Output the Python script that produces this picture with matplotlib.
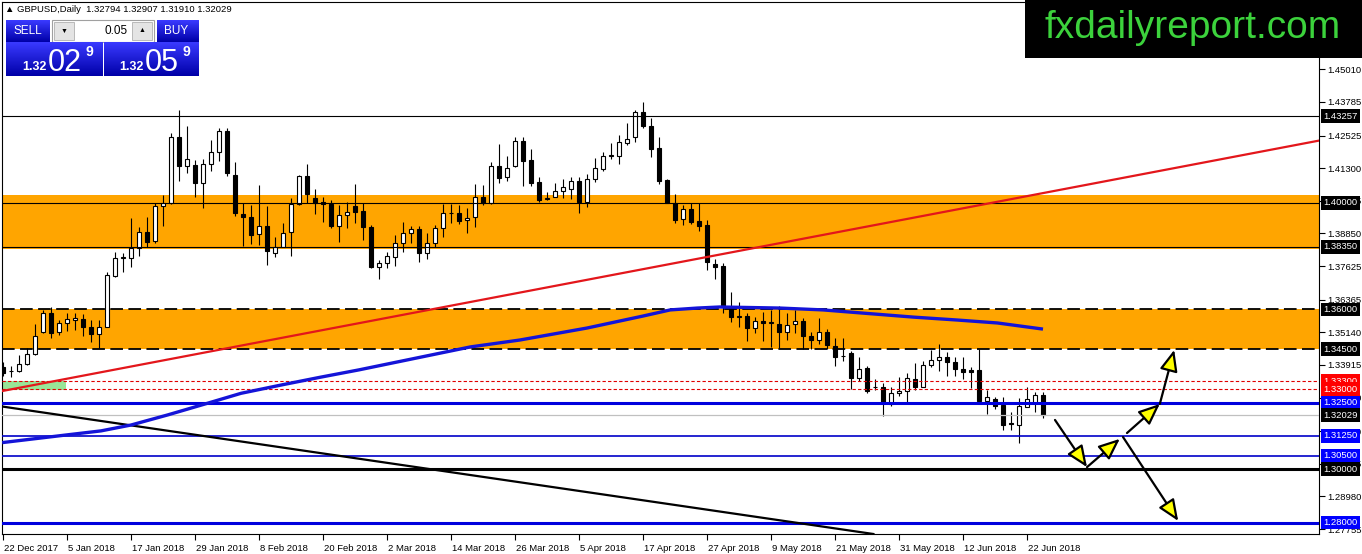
import numpy as np
import matplotlib
matplotlib.use('Agg')
import matplotlib.pyplot as plt
import matplotlib.transforms as mtrans
from matplotlib.patches import Rectangle
from matplotlib.colors import LinearSegmentedColormap

W, H = 1362, 554

# ─── Data ─────────────────────────────────────────────────────────────────────
opens = [1.3384, 1.3369, 1.3369, 1.3394, 1.3431, 1.3516, 1.3585, 1.3514, 1.3548, 1.3559,
         1.3565, 1.3535, 1.3506, 1.3535, 1.3727, 1.3792, 1.3792, 1.3829, 1.3892, 1.3855,
         1.3988, 1.4000, 1.4246, 1.4138, 1.4142, 1.4073, 1.4146, 1.4192, 1.4269, 1.4104,
         1.3958, 1.3948, 1.3882, 1.3913, 1.3810, 1.3835, 1.3889, 1.3994, 1.4100, 1.4019,
         1.4002, 1.3994, 1.3914, 1.3953, 1.3988, 1.3969, 1.3910, 1.3758, 1.3773, 1.3797,
         1.3848, 1.3886, 1.3901, 1.3813, 1.3850, 1.3904, 1.3961, 1.3961, 1.3935, 1.3946,
         1.4023, 1.3998, 1.4139, 1.4096, 1.4139, 1.4232, 1.4161, 1.4077, 1.4015, 1.4023,
         1.4043, 1.4053, 1.4083, 1.4002, 1.4090, 1.4128, 1.4176, 1.4177, 1.4225, 1.4246,
         1.4340, 1.4288, 1.4205, 1.4086, 1.4000, 1.3938, 1.3977, 1.3932, 1.3917, 1.3770,
         1.3763, 1.3610, 1.3573, 1.3575, 1.3531, 1.3556, 1.3549, 1.3545, 1.3516, 1.3544,
         1.3556, 1.3501, 1.3485, 1.3514, 1.3463, 1.3424, 1.3435, 1.3344, 1.3381, 1.3307,
         1.3309, 1.3244, 1.3285, 1.3294, 1.3338, 1.3310, 1.3390, 1.3409, 1.3420, 1.3404,
         1.3375, 1.3372, 1.3372, 1.3257, 1.3262, 1.3240, 1.3172, 1.3167, 1.3235, 1.3250,
         1.32794]
highs = [1.3402, 1.3387, 1.3429, 1.3454, 1.3544, 1.3598, 1.3610, 1.3560, 1.3585, 1.3585,
         1.3583, 1.3560, 1.3560, 1.3741, 1.3816, 1.3810, 1.3942, 1.3910, 1.3948, 1.3998,
         1.4029, 1.4263, 1.4348, 1.4288, 1.4161, 1.4164, 1.4236, 1.4280, 1.4280, 1.4154,
         1.3998, 1.3992, 1.4067, 1.3988, 1.3873, 1.3923, 1.4017, 1.4104, 1.4146, 1.4051,
         1.4023, 1.4010, 1.3992, 1.4004, 1.4070, 1.4000, 1.3917, 1.3785, 1.3816, 1.3879,
         1.3929, 1.3913, 1.3913, 1.3888, 1.3917, 1.3995, 1.3995, 1.3992, 1.3979, 1.4069,
         1.4067, 1.4154, 1.4220, 1.4176, 1.4246, 1.4246, 1.4201, 1.4096, 1.4042, 1.4073,
         1.4088, 1.4096, 1.4096, 1.4108, 1.4167, 1.4192, 1.4224, 1.4254, 1.4298, 1.4348,
         1.4379, 1.4317, 1.4248, 1.4088, 1.4033, 1.3992, 1.3998, 1.4000, 1.3935, 1.3788,
         1.3773, 1.3666, 1.3626, 1.3588, 1.3573, 1.3591, 1.3598, 1.3613, 1.3588, 1.3596,
         1.3567, 1.3516, 1.3567, 1.3525, 1.3491, 1.3491, 1.3444, 1.3422, 1.3388, 1.3337,
         1.3323, 1.3310, 1.3345, 1.3360, 1.3400, 1.3407, 1.3447, 1.3470, 1.3441, 1.3422,
         1.3422, 1.3385, 1.3450, 1.3298, 1.3272, 1.3270, 1.3216, 1.3267, 1.3310, 1.3291,
         1.32907]
lows = [1.3350, 1.3345, 1.3366, 1.3391, 1.3429, 1.3510, 1.3491, 1.3504, 1.3520, 1.3523,
        1.3501, 1.3479, 1.3454, 1.3533, 1.3723, 1.3741, 1.3758, 1.3800, 1.3835, 1.3850,
        1.3913, 1.3996, 1.4083, 1.4113, 1.4023, 1.3979, 1.4120, 1.4158, 1.4100, 1.3950,
        1.3838, 1.3844, 1.3842, 1.3767, 1.3795, 1.3833, 1.3800, 1.3992, 1.3998, 1.3958,
        1.3929, 1.3904, 1.3854, 1.3904, 1.3925, 1.3860, 1.3756, 1.3713, 1.3754, 1.3764,
        1.3816, 1.3848, 1.3779, 1.3788, 1.3835, 1.3873, 1.3925, 1.3920, 1.3888, 1.3910,
        1.3992, 1.3995, 1.4075, 1.4083, 1.4133, 1.4064, 1.4063, 1.4004, 1.4010, 1.4021,
        1.4017, 1.4014, 1.3961, 1.3983, 1.4079, 1.4120, 1.4163, 1.4146, 1.4217, 1.4229,
        1.4282, 1.4173, 1.4070, 1.3998, 1.3925, 1.3917, 1.3920, 1.3895, 1.3748, 1.3713,
        1.3588, 1.3554, 1.3535, 1.3482, 1.3510, 1.3482, 1.3460, 1.3454, 1.3484, 1.3510,
        1.3450, 1.3450, 1.3470, 1.3450, 1.3388, 1.3407, 1.3300, 1.3332, 1.3287, 1.3297,
        1.3201, 1.3238, 1.3275, 1.3253, 1.3297, 1.3308, 1.3382, 1.3370, 1.3350, 1.3350,
        1.3338, 1.3306, 1.3250, 1.3208, 1.3225, 1.3147, 1.3147, 1.3098, 1.3235, 1.3216,
        1.31910]
closes = [1.3361, 1.3370, 1.3394, 1.3431, 1.3501, 1.3585, 1.3513, 1.3548, 1.3565, 1.3567,
          1.3535, 1.3506, 1.3535, 1.3729, 1.3792, 1.3796, 1.3829, 1.3892, 1.3852, 1.3988,
          1.4000, 1.4246, 1.4138, 1.4163, 1.4073, 1.4146, 1.4192, 1.4269, 1.4113, 1.3961,
          1.3946, 1.3879, 1.3913, 1.3820, 1.3835, 1.3888, 1.3994, 1.4100, 1.4032, 1.3998,
          1.3994, 1.3914, 1.3953, 1.3964, 1.3966, 1.3908, 1.3758, 1.3773, 1.3800, 1.3848,
          1.3886, 1.3901, 1.3810, 1.3850, 1.3904, 1.3961, 1.3963, 1.3933, 1.3943, 1.4023,
          1.3998, 1.4139, 1.4094, 1.4130, 1.4232, 1.4158, 1.4075, 1.4010, 1.4018, 1.4043,
          1.4058, 1.4083, 1.4002, 1.4088, 1.4130, 1.4176, 1.4178, 1.4229, 1.4238, 1.4340,
          1.4289, 1.4202, 1.4083, 1.4000, 1.3935, 1.3977, 1.3929, 1.3914, 1.3779, 1.3760,
          1.3610, 1.3573, 1.3575, 1.3529, 1.3556, 1.3548, 1.3551, 1.3516, 1.3541, 1.3556,
          1.3501, 1.3485, 1.3514, 1.3466, 1.3422, 1.3426, 1.3344, 1.3377, 1.3294, 1.3310,
          1.3250, 1.3285, 1.3294, 1.3344, 1.3310, 1.3391, 1.3410, 1.3420, 1.3404, 1.3375,
          1.3366, 1.3366, 1.3257, 1.3272, 1.3238, 1.3166, 1.3168, 1.3238, 1.3262, 1.3278,
          1.32029]

# 200-day moving average, sampled along the drawn curve (bar index, price)
ma_idx = [-0.1, 8.0, 12.25, 16.0, 20.6, 25.6, 29.75, 34.75, 39.6, 44.5, 58.4, 64.6,
          73.0, 80.0, 83.4, 86.8, 89.6, 97.1, 102.5, 107.5, 113.8, 119.3, 124.3, 130.0]
ma_val = [1.3100, 1.3129, 1.3144, 1.3166, 1.3204, 1.3248, 1.3285, 1.3316, 1.3345, 1.3373,
          1.3459, 1.3485, 1.3530, 1.3575, 1.3598, 1.3605, 1.3609, 1.3605, 1.3598, 1.3586,
          1.3571, 1.3560, 1.3549, 1.3526]

# trend lines: two anchor points each (bar index, price)
red_trend = [(64.6, 1.3663), (98.4, 1.3856)]
black_trend = [(0.0, 1.3235), (54.4, 1.2996)]

# support / resistance zones and levels
zones = [(1.3826, 1.4029), (1.3450, 1.3601)]
green_zone = (1.3297, 1.3332)
thin_black = [1.43257, 1.40000, 1.38350]
dashed_black = [1.36000, 1.34500]
red_dotted = [1.33300, 1.33000]
blue_thick = [1.32500, 1.28000]
blue_thin = [1.31250, 1.30500]
black_thick = [1.30000]
bid = 1.32029

# scenario arrows (bar index, price) -> (bar index, price)
arrows = [((131.5, 1.3185), (135.5, 1.3008)),
          ((135.5, 1.3008), (139.6, 1.3114)),
          ((140.5, 1.3136), (144.6, 1.3245)),
          ((144.6, 1.3245), (146.4, 1.3448)),
          ((140.0, 1.3121), (146.9, 1.2806))]

price_ticks = [1.45010, 1.43785, 1.42525, 1.41300, 1.40075, 1.38850, 1.37625, 1.36365,
               1.35140, 1.33915, 1.32690, 1.31430, 1.30205, 1.28980, 1.27755]
level_labels = [(1.43257, 'black'), (1.40000, 'black'), (1.38350, 'black'),
                (1.36000, 'black'), (1.34500, 'black'), (1.33300, '#ff0000'),
                (1.33000, '#ff0000'), (1.32500, '#0000ff'), (1.32029, 'black'),
                (1.31250, '#0000ff'), (1.30500, '#0000ff'), (1.30000, 'black'),
                (1.28000, '#0000ff')]
date_pos = list(range(0, 129, 8))
date_labels = ['22 Dec 2017', '5 Jan 2018', '17 Jan 2018', '29 Jan 2018', '8 Feb 2018',
               '20 Feb 2018', '2 Mar 2018', '14 Mar 2018', '26 Mar 2018', '5 Apr 2018',
               '17 Apr 2018', '27 Apr 2018', '9 May 2018', '21 May 2018', '31 May 2018',
               '12 Jun 2018', '22 Jun 2018']

header = '\u25b2 GBPUSD,Daily  1.32794 1.32907 1.31910 1.32029'

# ─── Figure ───────────────────────────────────────────────────────────────────
plt.rcParams['font.family'] = ['Liberation Sans', 'DejaVu Sans']
FS = 6.8
fig = plt.figure(figsize=(W / 100, H / 100), dpi=100)
fig.patch.set_facecolor('white')
ax = fig.add_axes([2 / W, 20 / H, 1317 / W, 532 / H])
ax.set_xlim(-0.125, 164.5)
ax.set_ylim(1.27570, 1.47536)

O, Hh, L, C = map(np.array, (opens, highs, lows, closes))
x = np.arange(len(O))
up = C >= O

# background zones
for lo, hi in zones:
    ax.axhspan(lo, hi, color='#ffa500', lw=0, zorder=0.5)
ax.add_patch(Rectangle((-0.125, green_zone[0]), 8.0, green_zone[1] - green_zone[0],
                       color='#98e698', lw=0, zorder=0.6))

# candles
ax.vlines(x, L, Hh, color='black', lw=0.8, zorder=2)
ax.bar(x, np.abs(C - O), bottom=np.minimum(O, C), width=0.62,
       color=np.where(up, 'white', 'black'), edgecolor='black', linewidth=0.8, zorder=3)

# levels
for y in thin_black:
    ax.axhline(y, color='black', lw=0.8, zorder=4)
for y in dashed_black:
    ax.axhline(y, color='black', lw=1.3, ls=(0, (7, 3)), zorder=4)
for y in red_dotted:
    ax.axhline(y, color='#e00000', lw=0.8, ls=(0, (3, 2)), zorder=4)
ax.axhline(bid, color='#c0c0c0', lw=0.9, zorder=4)
for y in blue_thin:
    ax.axhline(y, color='#0000c8', lw=1.2, zorder=4)
for y in blue_thick:
    ax.axhline(y, color='#0000dd', lw=2.2, zorder=4)
for y in black_thick:
    ax.axhline(y, color='black', lw=2.2, zorder=4)

# trend lines and MA
ax.axline(red_trend[0], red_trend[1], color='#e3161b', lw=1.6, zorder=4.5)
ax.axline(black_trend[0], black_trend[1], color='black', lw=1.6, zorder=4.5)
ax.plot(ma_idx, ma_val, color='#1414d8', lw=2.4, zorder=5, solid_capstyle='butt')

for (x0, y0), (x1, y1) in arrows:
    ax.annotate('', xy=(x1, y1), xytext=(x0, y0), zorder=6,
                arrowprops=dict(arrowstyle='-|>,head_length=1.3,head_width=0.55',
                                lw=1.6, ec='black', fc='#ffff00',
                                shrinkA=0, shrinkB=0))

# axes styling
for s in ax.spines.values():
    s.set_linewidth(0.8)
ax.yaxis.tick_right()
ax.set_yticks(price_ticks)
ax.set_yticklabels([f'{v:.5f}' for v in price_ticks])
ax.tick_params(axis='y', direction='out', length=4, width=0.8, pad=2, labelsize=FS)
ax.set_xticks(date_pos)
ax.set_xticklabels(date_labels, ha='left')
ax.tick_params(axis='x', direction='out', length=4, width=0.8, pad=3, labelsize=FS)
for lab in ax.get_xticklabels():
    lab.set_transform(lab.get_transform() + mtrans.ScaledTranslation(1 / 100, 0, fig.dpi_scale_trans))

trans = mtrans.blended_transform_factory(ax.transAxes, ax.transData)
for y, col in level_labels:
    ax.text(1.0035, y, f'{y:.5f}', transform=trans, ha='left', va='center',
            fontsize=FS, color='white', zorder=10, clip_on=False,
            bbox=dict(boxstyle='square,pad=0.25', fc=col, ec='none'))

# header
fig.text(5 / W, 1 - 10 / H, header, fontsize=6.8, va='center', ha='left')

# ─── One-click trading panel ──────────────────────────────────────────────────
def fbox(x0, y0, x1, y1, **kw):
    r = Rectangle((x0 / W, 1 - y1 / H), (x1 - x0) / W, (y1 - y0) / H,
                  transform=fig.transFigure, **kw)
    fig.add_artist(r)
    return r

grad = LinearSegmentedColormap.from_list('g', ['#3a3aff', '#0000a8'])
for (x0, y0, x1, y1) in [(6, 20, 50, 42), (157, 20, 199, 42), (6, 42, 102, 76), (104, 42, 199, 76)]:
    gax = fig.add_axes([x0 / W, 1 - y1 / H, (x1 - x0) / W, (y1 - y0) / H])
    gax.imshow(np.linspace(0, 1, 40)[:, None], cmap=grad, aspect='auto')
    gax.set_axis_off()
    gax.set_zorder(8)

fbox(52, 20, 154, 42, fc='white', ec='#a0a0a0', lw=0.8, zorder=8)
fbox(54, 22, 74, 40, fc='#e4e4e4', ec='#b0b0b0', lw=0.6, zorder=8)
fbox(132, 22, 152, 40, fc='#e4e4e4', ec='#b0b0b0', lw=0.6, zorder=8)
fig.text(64 / W, 1 - 31 / H, '\u25bc', fontsize=5, ha='center', va='center', zorder=9)
fig.text(142 / W, 1 - 31 / H, '\u25b2', fontsize=5, ha='center', va='center', zorder=9)
fig.text(128 / W, 1 - 31 / H, '0.05', fontsize=8.5, ha='right', va='center', zorder=9)
fig.text(28 / W, 1 - 31 / H, 'SELL', fontsize=8.5, color='white', ha='center', va='center', zorder=9)
fig.text(176 / W, 1 - 31 / H, 'BUY', fontsize=8.5, color='white', ha='center', va='center', zorder=9)
for x0, big in [(22, '02'), (119, '05')]:
    fig.text(x0 / W, 1 - 70 / H, '1.32', fontsize=9, color='white', weight='bold',
             ha='left', va='baseline', zorder=9)
    fig.text((x0 + 26) / W, 1 - 71 / H, big, fontsize=22, color='white',
             ha='left', va='baseline', zorder=9)
    fig.text((x0 + 63) / W, 1 - 56 / H, '9', fontsize=10, color='white', weight='bold',
             ha='left', va='baseline', zorder=9)

# logo
fbox(1025, -1, W + 1, 58, fc='black', ec='none', zorder=20)
fig.text(1193 / W, 1 - 28 / H, 'fxdailyreport.com', fontsize=28, color='#3cd23c',
         family='Liberation Sans', ha='center', va='center', zorder=21)

fig.savefig('out.png', dpi=100)
